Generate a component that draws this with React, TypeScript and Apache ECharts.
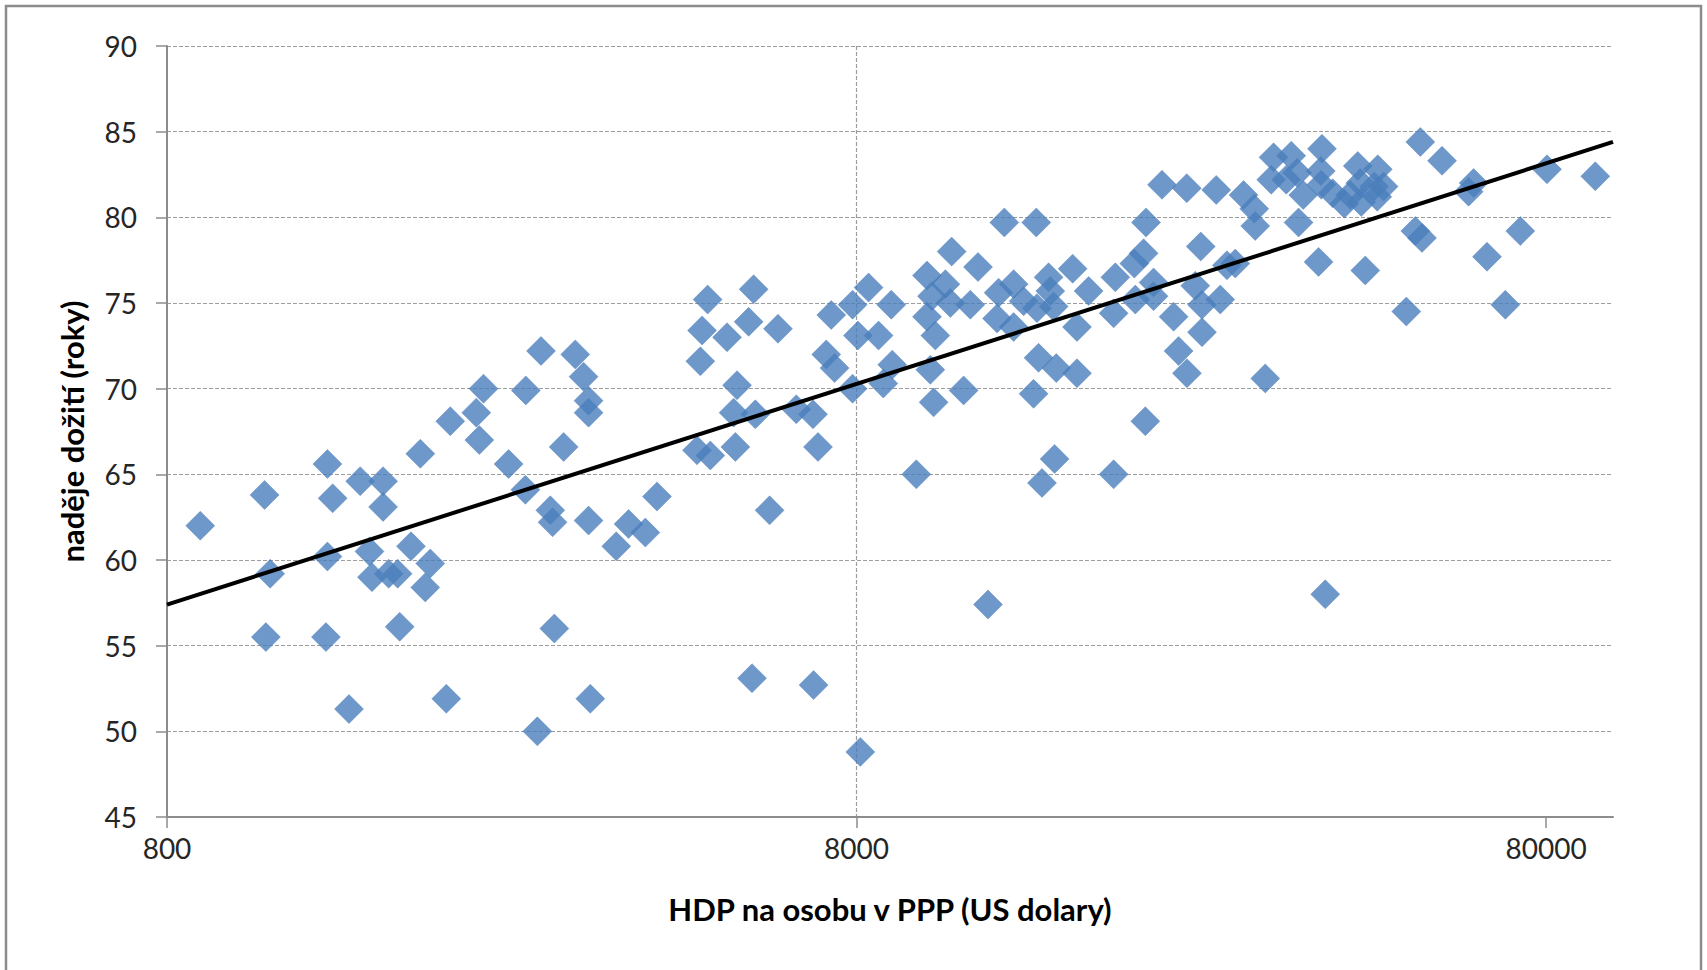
import React, { useEffect, useRef } from 'react';
import * as echarts from 'echarts';

// HDP na osobu v PPP (US dolary)
const gdp = [
  894, 1108, 1129, 1113, 1367, 1391, 1367, 1360, 1469, 1525,
  1646, 1646, 1573, 1586, 1677, 1728, 1807, 1927, 1895, 1740,
  2033, 1864, 2060, 2247, 2302, 2270, 2503, 2651, 2789, 3127,
  3215, 3269, 3269, 3008, 2647, 2877, 2899, 3269, 3736, 3951,
  3586, 4108, 2916, 3288, 2755, 4865, 4775, 4748, 5191, 5673,
  5579, 6153, 5367, 5306, 5705, 6541, 6916, 4695, 4909, 5337,
  7033, 5983, 5642, 6930, 8100, 7351, 7894, 8327, 8982, 7230,
  7433, 8037, 8609, 7894, 8746, 9012, 10121, 10761, 10291, 10942,
  11695, 10121, 10406, 10989, 11999, 13102, 14577, 16459, 12855, 13515,
  12787, 13515, 13974, 14611, 15189, 15275, 15445, 17360, 16700, 18981,
  18874, 20221, 20289, 20858, 21026, 21566, 21566, 22180, 24093, 26586,
  29124, 30182, 30282, 25247, 24788, 25349, 26943, 27553, 28327, 23057,
  25349, 23445, 24109, 10233, 10346, 11437, 14690, 15584, 16700, 14446,
  20978, 9765, 12408, 14858, 15496, 18874, 32194, 34152, 37841, 31947,
  33587, 34842, 35547, 37690, 37753, 39229, 40767, 42646, 45592, 43003,
  45062, 46484, 43147, 45516, 41590, 34994, 37414, 43726, 52549, 56501,
  62785, 61746, 51680, 52849, 65659, 73382, 80216, 94256, 50150, 69800,
  31313, 38261,
];

// naděje dožití (roky)
const lifeExp = [
  62.0, 63.8, 59.2, 55.5, 65.6, 63.6, 60.2, 55.5, 51.3, 64.6,
  64.6, 63.1, 60.5, 59.0, 59.2, 59.2, 60.8, 59.8, 58.4, 56.1,
  51.9, 66.2, 68.1, 68.6, 70.0, 67.0, 65.6, 69.9, 72.2, 72.0,
  70.7, 69.3, 68.6, 66.6, 64.1, 62.9, 62.2, 62.3, 62.1, 61.6,
  60.8, 63.7, 56.0, 51.9, 50.0, 75.2, 73.4, 71.6, 73.0, 75.8,
  73.9, 73.5, 70.2, 68.6, 68.5, 68.8, 68.5, 66.4, 66.1, 66.6,
  66.6, 62.9, 53.1, 52.7, 48.8, 74.3, 74.9, 75.9, 74.9, 72.0,
  71.2, 73.1, 73.1, 70.0, 70.3, 71.4, 76.6, 76.1, 75.4, 75.0,
  74.9, 74.2, 73.1, 78.0, 77.1, 79.7, 79.7, 77.0, 75.6, 76.1,
  74.1, 73.6, 75.1, 74.7, 76.5, 75.7, 74.8, 75.7, 73.6, 76.5,
  74.4, 77.3, 75.2, 77.9, 79.7, 76.2, 75.4, 81.9, 81.7, 81.6,
  81.3, 80.5, 79.5, 78.3, 76.0, 74.9, 75.2, 77.2, 77.3, 74.2,
  73.3, 72.2, 70.9, 71.1, 69.2, 69.9, 71.8, 71.2, 70.9, 69.7,
  68.1, 65.0, 57.4, 64.5, 65.9, 65.0, 83.5, 83.6, 84.0, 82.2,
  82.2, 82.6, 81.3, 82.7, 81.9, 81.4, 80.8, 83.0, 82.8, 82.0,
  81.8, 81.8, 80.9, 81.2, 81.3, 79.7, 77.4, 76.9, 84.4, 83.3,
  82.0, 81.5, 79.2, 78.8, 77.7, 79.2, 82.8, 82.4, 74.5, 74.9,
  70.6, 58.0,
];

// logarithmic trendline end points
const trendGdp = [800, 100000];
const trendLife = [57.4, 84.4];

const xMinGdp = 800;
const xMaxGdp = 100000;
const xTickGdp = [800, 8000, 80000];
const yMin = 45;
const yMax = 90;
const yStep = 5;

const xTitle = 'HDP na osobu v PPP (US dolary)';
const yTitle = 'naděje dožití (roky)';

const FONT = 'Lato, "Open Sans", sans-serif';

export default function App() {
  const ref = useRef<HTMLDivElement>(null);

  useEffect(() => {
    if (!ref.current) return;
    const chart = echarts.init(ref.current, null, { renderer: 'svg' });
    const lx = (g: number) => Math.log10(g / xMinGdp);
    const tickPos = xTickGdp.map(lx).map((v) => Math.round(v * 1e9) / 1e9);

    const axisGray = '#8c8c8c';
    const gridStyle = { color: '#9c9c9c', type: [4, 2] as any, width: 1.2 };

    const option: any = {
      animation: false,
      backgroundColor: '#ffffff',
      grid: { left: 167, top: 46, width: 1446, height: 771, containLabel: false },
      xAxis: {
        type: 'value',
        min: 0,
        max: lx(xMaxGdp),
        interval: 1,
        axisLine: { show: true, lineStyle: { color: axisGray, width: 2 } },
        axisTick: { show: true, length: 11, customValues: tickPos, lineStyle: { color: axisGray, width: 1.5 } },
        axisLabel: {
          customValues: tickPos,
          formatter: (v: number) =>
            Math.abs(v - Math.round(v)) < 1e-6 ? String(Math.round(xMinGdp * Math.pow(10, Math.round(v)))) : '',
          fontSize: 28,
          fontFamily: FONT,
          color: '#262626',
          margin: 17,
        },
        splitLine: { show: true, showMinLine: false, showMaxLine: false, lineStyle: gridStyle },
        name: xTitle,
        nameLocation: 'middle',
        nameGap: 76,
        nameTextStyle: { fontFamily: FONT, fontWeight: 'bold', fontSize: 31, color: '#000' },
      },
      yAxis: {
        type: 'value',
        min: yMin,
        max: yMax,
        interval: yStep,
        axisLine: { show: true, lineStyle: { color: axisGray, width: 2 } },
        axisTick: { show: true, length: 11, lineStyle: { color: axisGray, width: 1.5 } },
        axisLabel: { fontSize: 28, fontFamily: FONT, color: '#262626', margin: 30 },
        splitLine: { show: true, showMinLine: false, lineStyle: gridStyle },
        name: yTitle,
        nameLocation: 'middle',
        nameRotate: 90,
        nameGap: 80,
        nameTextStyle: { fontFamily: FONT, fontWeight: 'bold', fontSize: 31, color: '#000' },
      },
      graphic: [
        {
          type: 'rect',
          silent: true,
          z: -10,
          shape: { x: 6, y: 6, width: 1695, height: 1000 },
          style: { fill: 'none', stroke: '#8c8c8c', lineWidth: 2.5 },
        },
      ],
      series: [
        {
          type: 'scatter',
          symbol: 'diamond',
          symbolSize: 29,
          itemStyle: { color: '#4a7ebb', borderColor: '#4a7ebb', borderWidth: 0.5 },
          data: gdp.map((g, i) => [lx(g), lifeExp[i]]),
          z: 2,
        },
        {
          type: 'line',
          symbol: 'none',
          lineStyle: { color: '#000000', width: 4 },
          data: trendGdp.map((g, i) => [lx(g), trendLife[i]]),
          z: 3,
        },
      ],
    };
    chart.setOption(option);
    return () => chart.dispose();
  }, []);

  return (
    <div
      ref={ref}
      style={{ position: 'fixed', left: 0, top: 0, width: 1707, height: 970, background: '#ffffff' }}
    />
  );
}
